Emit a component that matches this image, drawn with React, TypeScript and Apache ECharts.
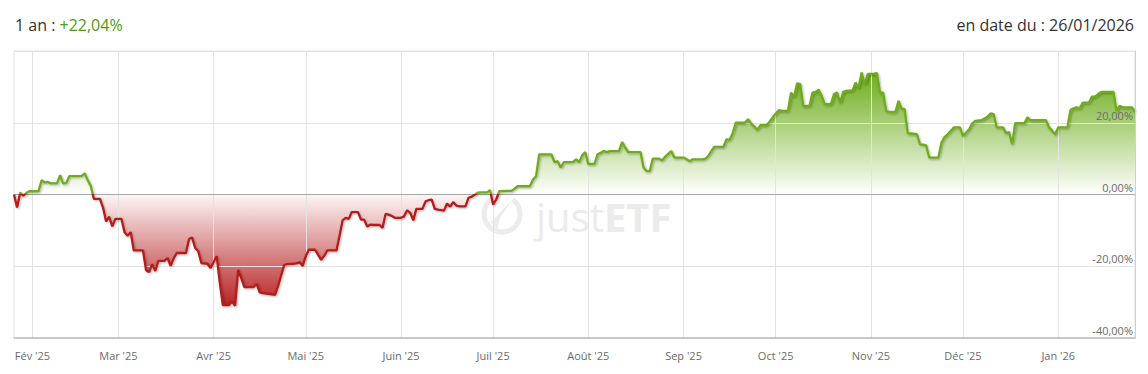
import React, { useEffect, useRef } from 'react';
import * as echarts from 'echarts';

// Header texts
const headerPeriod = '1 an : ';
const headerReturn = '+22,04%';
const headerDate = 'en date du : 26/01/2026';

// Time range and month ticks
const rangeStart = '2025-01-26';
const rangeEnd = '2026-01-26';
const monthTicks = [
  '2025-02-01', '2025-03-01', '2025-04-01', '2025-05-01', '2025-06-01', '2025-07-01',
  '2025-08-01', '2025-09-01', '2025-10-01', '2025-11-01', '2025-12-01', '2026-01-01',
];
const monthLabels = [
  "Fév '25", "Mar '25", "Avr '25", "Mai '25", "Juin '25", "Juil '25",
  "Août '25", "Sep '25", "Oct '25", "Nov '25", "Déc '25", "Jan '26",
];
const yMin = -40;
const yMax = 40;
const yStep = 20;

// Performance (%)
const performance: [string, number][] = [
  ['2025-01-26', 0], ['2025-01-27', -3.6], ['2025-01-28', 0.5], ['2025-01-29', -0.3], ['2025-01-30', 0.4],
  ['2025-01-31', 0.9], ['2025-02-03', 0.9], ['2025-02-04', 4.0], ['2025-02-05', 3.3], ['2025-02-06', 3.5],
  ['2025-02-07', 3.1], ['2025-02-09', 3.1], ['2025-02-10', 5.4], ['2025-02-11', 3.1], ['2025-02-12', 3.2],
  ['2025-02-13', 5.1], ['2025-02-14', 5.1], ['2025-02-16', 5.1], ['2025-02-17', 5.2], ['2025-02-18', 5.9],
  ['2025-02-19', 4.0], ['2025-02-20', 2.4], ['2025-02-21', -1.2], ['2025-02-23', -1.2], ['2025-02-24', -3.7],
  ['2025-02-25', -7.5], ['2025-02-26', -6.2], ['2025-02-27', -8.9], ['2025-02-28', -6.8], ['2025-03-02', -6.8],
  ['2025-03-03', -10.5], ['2025-03-04', -11.5], ['2025-03-05', -10.5], ['2025-03-06', -15.6], ['2025-03-07', -15.6],
  ['2025-03-09', -15.6], ['2025-03-10', -21.1], ['2025-03-11', -21.6], ['2025-03-12', -19.4], ['2025-03-13', -21.3],
  ['2025-03-14', -18.5], ['2025-03-16', -18.5], ['2025-03-17', -17.7], ['2025-03-18', -19.9], ['2025-03-19', -17.8],
  ['2025-03-20', -16.3], ['2025-03-21', -16.3], ['2025-03-23', -16.3], ['2025-03-24', -12.4], ['2025-03-25', -12.0],
  ['2025-03-26', -14.9], ['2025-03-27', -15.8], ['2025-03-28', -19.1], ['2025-03-30', -19.3], ['2025-03-31', -20.5],
  ['2025-04-01', -18.9], ['2025-04-02', -17.2], ['2025-04-03', -24.5], ['2025-04-04', -30.8], ['2025-04-06', -30.8],
  ['2025-04-07', -29.8], ['2025-04-08', -31.0], ['2025-04-09', -21.0], ['2025-04-10', -23.3], ['2025-04-11', -25.8],
  ['2025-04-13', -25.8], ['2025-04-14', -25.8], ['2025-04-15', -24.9], ['2025-04-16', -27.3], ['2025-04-17', -27.5],
  ['2025-04-21', -28.0], ['2025-04-22', -25.5], ['2025-04-23', -22.5], ['2025-04-24', -19.6], ['2025-04-25', -19.4],
  ['2025-04-27', -19.3], ['2025-04-28', -19.2], ['2025-04-29', -18.9], ['2025-04-30', -19.9], ['2025-05-01', -17.2],
  ['2025-05-02', -15.4], ['2025-05-04', -15.4], ['2025-05-05', -16.8], ['2025-05-06', -18.2], ['2025-05-07', -17.1],
  ['2025-05-08', -15.6], ['2025-05-09', -15.6], ['2025-05-11', -15.6], ['2025-05-12', -11.5], ['2025-05-13', -7.2],
  ['2025-05-14', -6.5], ['2025-05-15', -6.8], ['2025-05-16', -4.9], ['2025-05-18', -4.9], ['2025-05-19', -7.0],
  ['2025-05-20', -7.0], ['2025-05-21', -8.9], ['2025-05-22', -8.4], ['2025-05-23', -8.5], ['2025-05-25', -8.5],
  ['2025-05-26', -9.3], ['2025-05-27', -5.4], ['2025-05-28', -5.6], ['2025-05-29', -6.0], ['2025-05-30', -6.5],
  ['2025-06-01', -6.5], ['2025-06-02', -6.1], ['2025-06-03', -4.4], ['2025-06-04', -5.1], ['2025-06-05', -7.2],
  ['2025-06-06', -4.0], ['2025-06-08', -4.0], ['2025-06-09', -1.9], ['2025-06-10', -1.6], ['2025-06-11', -1.4],
  ['2025-06-12', -4.0], ['2025-06-13', -4.2], ['2025-06-15', -4.5], ['2025-06-16', -2.5], ['2025-06-17', -3.4],
  ['2025-06-18', -2.1], ['2025-06-19', -3.1], ['2025-06-20', -3.3], ['2025-06-22', -3.3], ['2025-06-23', -0.9],
  ['2025-06-24', -0.6], ['2025-06-25', -0.1], ['2025-06-26', 0.5], ['2025-06-27', 0.6], ['2025-06-29', 0.6],
  ['2025-06-30', 1.2], ['2025-07-01', -2.8], ['2025-07-02', -1.4], ['2025-07-03', 0.9], ['2025-07-06', 1.0],
  ['2025-07-07', 1.0], ['2025-07-08', 1.6], ['2025-07-09', 2.3], ['2025-07-11', 2.3], ['2025-07-13', 2.3],
  ['2025-07-14', 4.2], ['2025-07-15', 5.1], ['2025-07-16', 11.2], ['2025-07-17', 11.2], ['2025-07-18', 11.2],
  ['2025-07-20', 11.2], ['2025-07-21', 9.0], ['2025-07-22', 9.3], ['2025-07-23', 7.5], ['2025-07-24', 9.0],
  ['2025-07-25', 9.0], ['2025-07-27', 9.0], ['2025-07-28', 9.8], ['2025-07-29', 9.0], ['2025-07-30', 10.9],
  ['2025-07-31', 11.8], ['2025-08-01', 8.5], ['2025-08-03', 8.5], ['2025-08-04', 11.2], ['2025-08-05', 11.6],
  ['2025-08-06', 12.1], ['2025-08-07', 11.8], ['2025-08-08', 12.1], ['2025-08-10', 12.1], ['2025-08-11', 12.1],
  ['2025-08-12', 14.6], ['2025-08-13', 13.1], ['2025-08-14', 11.8], ['2025-08-15', 11.8], ['2025-08-17', 11.8],
  ['2025-08-18', 11.8], ['2025-08-19', 7.5], ['2025-08-20', 6.5], ['2025-08-21', 6.5], ['2025-08-22', 10.0],
  ['2025-08-24', 10.0], ['2025-08-25', 9.5], ['2025-08-26', 10.5], ['2025-08-27', 11.3], ['2025-08-28', 12.1],
  ['2025-08-29', 10.3], ['2025-08-31', 10.3], ['2025-09-01', 10.3], ['2025-09-02', 9.8], ['2025-09-03', 9.3],
  ['2025-09-04', 9.8], ['2025-09-05', 9.8], ['2025-09-07', 9.8], ['2025-09-08', 9.9], ['2025-09-09', 10.7],
  ['2025-09-10', 12.0], ['2025-09-11', 13.3], ['2025-09-12', 13.3], ['2025-09-14', 13.3], ['2025-09-15', 15.4],
  ['2025-09-16', 15.2], ['2025-09-17', 17.1], ['2025-09-18', 20.0], ['2025-09-19', 20.0], ['2025-09-21', 20.0],
  ['2025-09-22', 21.0], ['2025-09-23', 19.8], ['2025-09-24', 19.0], ['2025-09-25', 18.0], ['2025-09-26', 19.3],
  ['2025-09-28', 19.3], ['2025-09-29', 20.3], ['2025-09-30', 21.5], ['2025-10-01', 22.5], ['2025-10-02', 23.5],
  ['2025-10-03', 23.3], ['2025-10-05', 23.3], ['2025-10-06', 28.4], ['2025-10-07', 27.3], ['2025-10-08', 31.0],
  ['2025-10-09', 30.8], ['2025-10-10', 24.7], ['2025-10-12', 24.7], ['2025-10-13', 28.4], ['2025-10-14', 28.6],
  ['2025-10-15', 29.2], ['2025-10-16', 27.5], ['2025-10-17', 25.2], ['2025-10-19', 25.2], ['2025-10-20', 28.0],
  ['2025-10-21', 28.4], ['2025-10-22', 25.6], ['2025-10-23', 28.6], ['2025-10-24', 28.9], ['2025-10-26', 29.0],
  ['2025-10-27', 31.2], ['2025-10-28', 29.8], ['2025-10-29', 34.0], ['2025-10-30', 30.8], ['2025-10-31', 33.6],
  ['2025-11-02', 33.7], ['2025-11-03', 33.8], ['2025-11-04', 28.4], ['2025-11-05', 28.4], ['2025-11-06', 23.3],
  ['2025-11-07', 23.0], ['2025-11-09', 23.0], ['2025-11-10', 26.1], ['2025-11-11', 24.0], ['2025-11-12', 23.8],
  ['2025-11-13', 17.1], ['2025-11-14', 17.0], ['2025-11-16', 16.8], ['2025-11-17', 14.0], ['2025-11-18', 13.9],
  ['2025-11-19', 13.7], ['2025-11-20', 10.3], ['2025-11-21', 10.3], ['2025-11-23', 10.3], ['2025-11-24', 14.5],
  ['2025-11-25', 16.0], ['2025-11-26', 16.8], ['2025-11-27', 17.7], ['2025-11-28', 18.7], ['2025-11-30', 18.7],
  ['2025-12-01', 16.3], ['2025-12-02', 17.3], ['2025-12-03', 18.2], ['2025-12-04', 19.8], ['2025-12-05', 20.5],
  ['2025-12-07', 20.7], ['2025-12-08', 21.2], ['2025-12-09', 21.7], ['2025-12-10', 22.6], ['2025-12-11', 22.4],
  ['2025-12-12', 18.7], ['2025-12-14', 18.7], ['2025-12-15', 17.1], ['2025-12-16', 17.4], ['2025-12-17', 14.0],
  ['2025-12-18', 19.9], ['2025-12-19', 19.9], ['2025-12-21', 19.9], ['2025-12-22', 21.5], ['2025-12-23', 20.7],
  ['2025-12-28', 20.7], ['2025-12-29', 18.7], ['2025-12-30', 17.8], ['2025-12-31', 16.8], ['2026-01-01', 18.7],
  ['2026-01-02', 18.7], ['2026-01-04', 18.7], ['2026-01-05', 23.6], ['2026-01-06', 24.0], ['2026-01-07', 24.3],
  ['2026-01-08', 24.0], ['2026-01-09', 25.6], ['2026-01-11', 25.6], ['2026-01-12', 27.3], ['2026-01-13', 27.3],
  ['2026-01-14', 28.0], ['2026-01-15', 28.6], ['2026-01-16', 28.6], ['2026-01-19', 28.6], ['2026-01-20', 23.3],
  ['2026-01-21', 24.7], ['2026-01-22', 24.3], ['2026-01-23', 24.3], ['2026-01-25', 24.3], ['2026-01-26', 23.0],
];

const ts = (s: string) => {
  const [y, m, d] = s.split('-').map(Number);
  return Date.UTC(y, m - 1, d);
};

const GREEN = '#6fab1e';
const RED = '#b51a1a';
const FONT = '"Open Sans", "Noto Sans", sans-serif';

export default function App() {
  const ref = useRef<HTMLDivElement>(null);

  useEffect(() => {
    if (!ref.current) return;
    const chart = echarts.init(ref.current, undefined, { renderer: 'svg' });

    const W = 1148;
    const H = 374;
    const gridTop = 51;
    const gridBottom = 36;
    const gridLeft = 14;
    const gridRight = 13;
    const y0 = gridTop;
    const y1 = H - gridBottom;
    const zeroFrac = yMax / (yMax - yMin);

    const lineGrad = new echarts.graphic.LinearGradient(0, y0, 0, y1, [
      { offset: 0, color: GREEN },
      { offset: zeroFrac, color: GREEN },
      { offset: zeroFrac, color: RED },
      { offset: 1, color: RED },
    ], true);

    const areaGrad = new echarts.graphic.LinearGradient(0, y0, 0, y1, [
      { offset: 0, color: '#5f9e12' },
      { offset: 0.12, color: '#7cb532' },
      { offset: zeroFrac, color: 'rgba(255,255,255,1)' },
      { offset: zeroFrac, color: '#fdf6f6' },
      { offset: 0.9, color: '#b51c1c' },
      { offset: 1, color: '#a51414' },
    ], true);

    const tickTs = monthTicks.map(ts);
    const seriesData = performance.map(([d, v]) => [ts(d), v]);
    const pctLabel = (v: number) => (v === yMax ? '' : v.toFixed(2).replace('.', ',') + '%');

    chart.setOption({
      animation: false,
      textStyle: { fontFamily: FONT },
      grid: {
        left: gridLeft,
        right: gridRight,
        top: gridTop,
        bottom: gridBottom,
        containLabel: false,
        outerBoundsMode: 'none',
        show: true,
        borderColor: '#e3e3e3',
        borderWidth: 1,
      },
      xAxis: {
        type: 'value',
        min: ts(rangeStart),
        max: ts(rangeEnd),
        z: 4,
        axisLine: { show: true, onZero: false, lineStyle: { color: '#bdbdbd', width: 1.5 } },
        axisTick: { show: true, length: 0, customValues: tickTs, lineStyle: { color: 'rgba(0,0,0,0)' } },
        axisLabel: {
          customValues: tickTs,
          color: '#6b6b6b',
          fontSize: 11,
          fontFamily: FONT,
          margin: 12,
          formatter: (v: number) => {
            const i = tickTs.indexOf(v);
            return i >= 0 ? monthLabels[i] : '';
          },
        },
        splitLine: { show: true, lineStyle: { color: '#e3e3e3', width: 1 } },
      },
      yAxis: [
        {
          type: 'value',
          position: 'left',
          min: yMin,
          max: yMax,
          interval: yStep,
          z: 4,
          axisLine: { show: false },
          axisTick: { show: false },
          axisLabel: { show: false },
          splitLine: { show: true, lineStyle: { color: '#e3e3e3', width: 1 } },
        },
        {
          type: 'value',
          position: 'right',
          min: yMin,
          max: yMax,
          interval: yStep,
          z: 10,
          axisLine: { show: true, lineStyle: { color: '#cfcfcf', width: 1 } },
          axisTick: { show: false },
          splitLine: { show: false },
          axisLabel: {
            inside: true,
            color: '#6b6b6b',
            fontSize: 11,
            fontFamily: FONT,
            margin: 2,
            verticalAlign: 'bottom',
            padding: [0, 0, 2, 0],
            formatter: pctLabel,
          },
        },
      ],
      graphic: [
        {
          type: 'group',
          z: 0,
          silent: true,
          children: [
            {
              type: 'arc',
              shape: { cx: 502, cy: 214, r: 18, startAngle: -Math.PI * 0.3, endAngle: Math.PI * 1.45, clockwise: true },
              style: { stroke: '#ececec', lineWidth: 5, fill: 'none' },
            },
            {
              type: 'polygon',
              shape: { points: [[491, 222], [512, 200], [500, 218], [497, 230]] },
              style: { fill: '#ececec' },
            },
            {
              type: 'text',
              x: 536,
              y: 216,
              style: {
                text: '{a|just}{b|ETF}',
                verticalAlign: 'middle',
                rich: {
                  a: { fontSize: 40, fontFamily: FONT, fontWeight: 400, fill: '#ebebeb', color: '#ebebeb' },
                  b: { fontSize: 40, fontFamily: FONT, fontWeight: 700, fill: '#ebebeb', color: '#ebebeb' },
                },
              },
            },
          ],
        },
        {
          type: 'text',
          x: 15,
          y: 25,
          z: 10,
          style: {
            text: `{a|${headerPeriod}}{b|${headerReturn}}`,
            verticalAlign: 'middle',
            rich: {
              a: { fontSize: 16, fontFamily: FONT, fill: '#333333', color: '#333333' },
              b: { fontSize: 16, fontFamily: FONT, fill: '#4f9a10', color: '#4f9a10' },
            },
          },
        },
        {
          type: 'text',
          x: W - 14,
          y: 25,
          z: 10,
          style: {
            text: headerDate,
            align: 'right',
            verticalAlign: 'middle',
            fontSize: 16,
            fontFamily: FONT,
            fill: '#333333',
          },
        },
      ],
      series: [
        {
          type: 'line',
          name: 'area',
          yAxisIndex: 0,
          data: seriesData,
          showSymbol: false,
          symbol: 'none',
          z: 2,
          lineStyle: { width: 0, opacity: 0 },
          areaStyle: { color: areaGrad, origin: 'auto', opacity: 1 },
        },
        {
          type: 'line',
          name: 'performance',
          yAxisIndex: 0,
          data: seriesData,
          showSymbol: false,
          symbol: 'none',
          z: 6,
          lineStyle: {
            width: 2.3,
            color: lineGrad,
            shadowColor: 'rgba(0,0,0,0.3)',
            shadowBlur: 2,
            shadowOffsetX: 1,
            shadowOffsetY: 1,
          },
          markLine: {
            silent: true,
            symbol: 'none',
            label: { show: false },
            lineStyle: { color: '#a8a8a8', width: 1, type: 'solid' },
            data: [{ yAxis: 0 }],
            z: 5,
          },
        },
      ],
    });

    return () => chart.dispose();
  }, []);

  return (
    <div
      ref={ref}
      style={{ position: 'fixed', left: 0, top: 0, width: 1148, height: 374, background: '#fff' }}
    />
  );
}
